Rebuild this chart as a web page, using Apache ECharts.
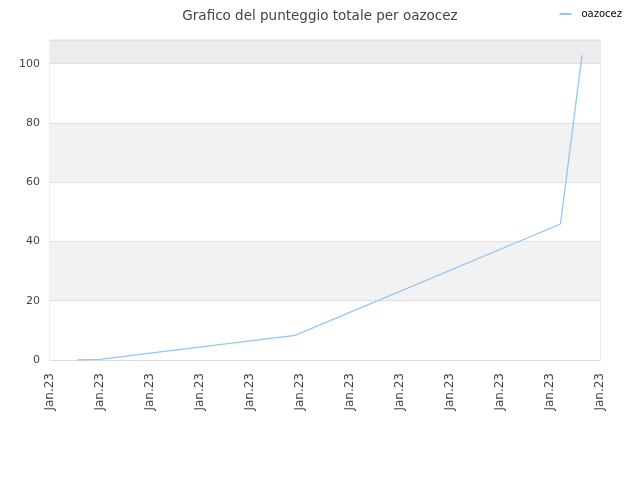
<!DOCTYPE html>
<html lang="it">
<head>
<meta charset="UTF-8">
<title>Grafico del punteggio totale per oazocez</title>
<script src="https://cdn.jsdelivr.net/npm/echarts@6/dist/echarts.min.js"></script>
<style>
  html, body { margin: 0; padding: 0; background: #fff; }
  #chart { width: 640px; height: 480px; }
</style>
</head>
<body>
<div id="chart"></div>
<script>
// posizioni sull'asse x (in unità di tick) e punteggi
var xPos = [0.55, 0.99, 4.9, 10.21, 10.64];
var scores = [0, 0.2, 8.3, 45.9, 102.9];
var tickLabel = 'Jan.23';
var seriesName = 'oazocez';

var chart = echarts.init(document.getElementById('chart'));
chart.setOption({
  animation: false,
  title: {
    text: 'Grafico del punteggio totale per oazocez',
    left: 'center',
    top: 4,
    textStyle: { color: '#444', fontSize: 13.5, fontWeight: 'normal', fontFamily: 'DejaVu Sans' }
  },
  legend: {
    right: 13,
    top: 4,
    itemWidth: 12,
    itemHeight: 2,
    icon: 'rect',
    textStyle: { color: '#000', fontSize: 10, fontFamily: 'DejaVu Sans', padding: [0, 0, 0, 5] },
    data: [seriesName]
  },
  grid: {
    left: 50, right: 40, top: 40, bottom: 120,
    show: true, borderColor: '#ddd', borderWidth: 1
  },
  xAxis: {
    type: 'value',
    min: 0, max: 11, interval: 1,
    axisLine: { show: true, lineStyle: { color: '#ddd' } },
    axisTick: { show: false },
    splitLine: { show: false },
    axisLabel: {
      rotate: 90, color: '#444', fontSize: 12, fontFamily: 'DejaVu Sans',
      margin: 13, showMinLabel: true, showMaxLabel: true,
      formatter: function () { return tickLabel; }
    }
  },
  yAxis: {
    type: 'value',
    min: 0, max: 108, interval: 20,
    axisLine: { show: false },
    axisTick: { show: false },
    axisLabel: { color: '#444', fontSize: 11, fontFamily: 'DejaVu Sans', margin: 10, showMaxLabel: false },
    splitLine: { show: true, lineStyle: { color: '#e0e0e0' } },
    splitArea: { show: true, areaStyle: { color: ['#ffffff', '#f2f2f2', '#ffffff', '#f2f2f2', '#ffffff', '#ececec'] } }
  },
  series: [{
    name: seriesName,
    type: 'line',
    data: xPos.map(function (x, i) { return [x, scores[i]]; }),
    symbol: 'none',
    lineStyle: { color: '#94c5f5', width: 1.3 },
    itemStyle: { color: '#94c5f5' }
  }]
});
</script>
</body>
</html>
